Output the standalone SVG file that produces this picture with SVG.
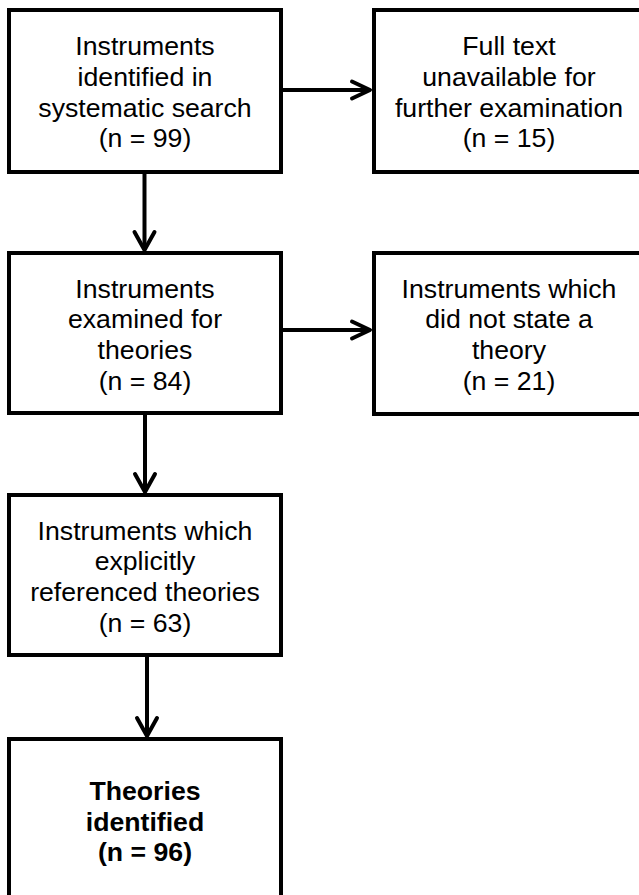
<svg xmlns="http://www.w3.org/2000/svg" width="639" height="895" viewBox="0 0 639 895">
<defs>
<style>
.box{fill:#fff;stroke:#000;stroke-width:4}
.t{font-family:"Liberation Sans",Arial,sans-serif;font-size:26.67px;fill:#000;text-anchor:middle}
.b{font-weight:bold}
.c{fill:none;stroke:#000;stroke-width:4}
.h{fill:none;stroke:#000;stroke-width:4;stroke-linecap:round;stroke-linejoin:round}
</style>
</defs>
<rect width="639" height="895" fill="#fff"/>
<g id="connectors">
<line class="c" x1="281" y1="90" x2="370" y2="90"/>
<polyline class="h" points="352,81.5 370,90 352,98.5"/>
<line class="c" x1="144.5" y1="172" x2="144.5" y2="250"/>
<polyline class="h" points="134.5,232 144.5,250 154.5,232"/>
<line class="c" x1="281" y1="330" x2="370" y2="330"/>
<polyline class="h" points="352,321.5 370,330 352,338.5"/>
<line class="c" x1="145" y1="413" x2="145" y2="492"/>
<polyline class="h" points="135,474 145,492 155,474"/>
<line class="c" x1="147" y1="655" x2="147" y2="736"/>
<polyline class="h" points="137,718 147,736 157,718"/>
</g>
<g id="n1">
<rect class="box" x="9" y="10" width="272" height="162"/>
<text class="t" x="145" y="55.3">Instruments</text>
<text class="t" x="145" y="86">identified in</text>
<text class="t" x="145" y="116.7">systematic search</text>
<text class="t" x="145" y="147.4">(n = 99)</text>
</g>
<g id="n2">
<rect class="box" x="374" y="10" width="270" height="162"/>
<text class="t" x="509" y="55.3">Full text</text>
<text class="t" x="509" y="86">unavailable for</text>
<text class="t" x="509" y="116.7">further examination</text>
<text class="t" x="509" y="147.4">(n = 15)</text>
</g>
<g id="n3">
<rect class="box" x="9" y="253" width="272" height="160"/>
<text class="t" x="145" y="297.7">Instruments</text>
<text class="t" x="145" y="328.4">examined for</text>
<text class="t" x="145" y="359">theories</text>
<text class="t" x="145" y="389.7">(n = 84)</text>
</g>
<g id="n4">
<rect class="box" x="374" y="253" width="270" height="161"/>
<text class="t" x="509" y="297.7">Instruments which</text>
<text class="t" x="509" y="328.4">did not state a</text>
<text class="t" x="509" y="359">theory</text>
<text class="t" x="509" y="389.7">(n = 21)</text>
</g>
<g id="n5">
<rect class="box" x="9" y="495" width="272" height="160"/>
<text class="t" x="145" y="539.5">Instruments which</text>
<text class="t" x="145" y="570.2">explicitly</text>
<text class="t" x="145" y="600.9">referenced theories</text>
<text class="t" x="145" y="631.6">(n = 63)</text>
</g>
<g id="n6">
<rect class="box" x="9" y="739" width="272" height="162"/>
<text class="t b" x="145" y="800">Theories</text>
<text class="t b" x="145" y="830.5">identified</text>
<text class="t b" x="145" y="861">(n = 96)</text>
</g>
</svg>
